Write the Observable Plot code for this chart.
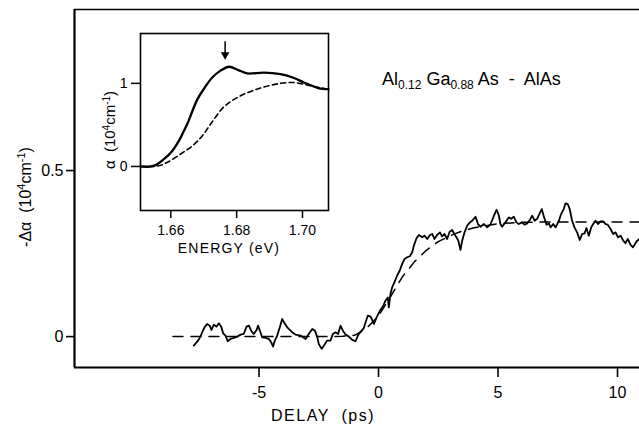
<!DOCTYPE html>
<html>
<head>
<meta charset="utf-8">
<script src="https://cdn.jsdelivr.net/npm/d3@7"></script>
<script src="https://cdn.jsdelivr.net/npm/@observablehq/plot@0.6"></script>
<style>
  html, body { margin: 0; padding: 0; background: white; }
  #wrap { position: relative; width: 639px; height: 424px; overflow: hidden; background: white; }
  #inset { position: absolute; left: 100px; top: 28px; }
  svg { font-family: "Liberation Sans", Arial, sans-serif; }
</style>
</head>
<body>
<div id="wrap"><div id="main"></div><div id="inset"></div></div>
<script>
// ---------- main panel data ----------
const delayTicks = [-5, 0, 5, 10];
const delayTickLabels = ["-5", "0", "5", "10"];
const dAlphaTicks = [0, 0.5];
const dAlphaTickLabels = ["0", "0.5"];

const traceDelay = [
  -7.73, -7.55, -7.45, -7.38, -7.28, -7.17, -7.06, -6.99, -6.89, -6.78, -6.68, -6.58, -6.50, -6.40, -6.31, -6.19,
  -6.05, -5.91, -5.77, -5.64, -5.52, -5.42, -5.33, -5.22, -5.10, -5.04, -4.94, -4.87, -4.73, -4.59, -4.49, -4.41,
  -4.35, -4.24, -4.13, -4.03, -3.93, -3.82, -3.71, -3.61, -3.47, -3.26, -3.05, -2.92, -2.77, -2.66, -2.56, -2.50,
  -2.38, -2.24, -2.15, -2.01, -1.91, -1.80, -1.69, -1.59, -1.49, -1.38, -1.24, -1.10, -0.96, -0.85, -0.71, -0.62,
  -0.54, -0.45, -0.33, -0.19, -0.08, 0.06, 0.20, 0.29, 0.39, 0.43, 0.50, 0.57, 0.67, 0.78, 0.89, 0.99,
  1.09, 1.20, 1.31, 1.41, 1.48, 1.59, 1.69, 1.83, 1.92, 2.04, 2.15, 2.25, 2.34, 2.45, 2.57, 2.66,
  2.76, 2.87, 2.98, 3.08, 3.17, 3.26, 3.34, 3.43, 3.50, 3.60, 3.71, 3.82, 3.92, 4.06, 4.16, 4.27,
  4.41, 4.55, 4.69, 4.83, 4.94, 5.04, 5.10, 5.17, 5.31, 5.45, 5.55, 5.66, 5.77, 5.87, 6.00, 6.11,
  6.22, 6.33, 6.43, 6.53, 6.64, 6.75, 6.83, 6.93, 7.03, 7.13, 7.20, 7.31, 7.41, 7.55, 7.64, 7.75,
  7.82, 7.92, 8.00, 8.10, 8.20, 8.31, 8.42, 8.52, 8.62, 8.70, 8.80, 8.90, 8.98, 9.08, 9.18, 9.29,
  9.40, 9.50, 9.59, 9.71, 9.82, 9.92, 10.02, 10.13, 10.24, 10.33, 10.43, 10.54, 10.65, 10.80, 10.92
];
const traceValue = [
  -0.027, -0.012, 0.000, 0.013, 0.028, 0.038, 0.033, 0.020, 0.036, 0.030, 0.040, 0.030, 0.010, 0.003, -0.014, -0.007,
  -0.004, 0.000, 0.006, 0.008, 0.030, 0.033, 0.018, 0.008, 0.020, 0.033, 0.013, -0.002, -0.004, -0.007, -0.017, -0.030,
  -0.014, 0.003, 0.028, 0.053, 0.040, 0.028, 0.020, 0.013, 0.006, 0.003, -0.007, 0.008, 0.023, 0.018, -0.002, -0.022,
  -0.037, -0.022, -0.012, -0.012, 0.008, 0.013, 0.008, 0.033, 0.018, 0.006, 0.000, -0.010, -0.014, 0.005, 0.018, 0.025,
  0.043, 0.063, 0.060, 0.038, 0.058, 0.078, 0.093, 0.108, 0.118, 0.088, 0.129, 0.148, 0.164, 0.184, 0.199, 0.219,
  0.234, 0.239, 0.242, 0.254, 0.274, 0.296, 0.306, 0.299, 0.304, 0.294, 0.306, 0.309, 0.294, 0.306, 0.314, 0.302,
  0.309, 0.294, 0.316, 0.321, 0.309, 0.299, 0.289, 0.261, 0.289, 0.314, 0.334, 0.344, 0.349, 0.361, 0.339, 0.331,
  0.339, 0.329, 0.339, 0.364, 0.382, 0.364, 0.339, 0.331, 0.344, 0.359, 0.355, 0.361, 0.344, 0.339, 0.344, 0.337,
  0.341, 0.351, 0.364, 0.349, 0.355, 0.372, 0.384, 0.359, 0.337, 0.341, 0.329, 0.339, 0.329, 0.349, 0.369, 0.384,
  0.401, 0.399, 0.384, 0.349, 0.329, 0.314, 0.291, 0.309, 0.311, 0.327, 0.304, 0.329, 0.339, 0.349, 0.339, 0.347,
  0.347, 0.339, 0.337, 0.324, 0.309, 0.314, 0.299, 0.304, 0.289, 0.281, 0.294, 0.277, 0.269, 0.287, 0.294
];

const fitDelay = [-8.6, -2.0, -1.5, -1.0, -0.5, 0.0, 0.5, 1.0, 1.5, 2.0, 2.5, 3.0, 3.5, 4.0, 5.0, 6.0, 7.0, 10.92];
const fitValue = [0, 0, 0.001, 0.004, 0.025, 0.062, 0.12, 0.18, 0.225, 0.26, 0.286, 0.304, 0.318, 0.328, 0.340, 0.344, 0.345, 0.345];

// ---------- inset data ----------
const energyTicks = [1.66, 1.68, 1.70];
const energyTickLabels = ["1.66", "1.68", "1.70"];
const alphaTicks = [0, 1];
const alphaTickLabels = ["0", "1"];

const solidEnergy = [1.6508, 1.6540, 1.6560, 1.6580, 1.6605, 1.6625, 1.6640, 1.6652, 1.6681, 1.6705, 1.6726, 1.6750, 1.6777, 1.6805, 1.6832, 1.6883, 1.6933, 1.6974, 1.7004, 1.7030, 1.7050, 1.7079];
const solidAlpha  = [0, 0, 0.03, 0.09, 0.19, 0.31, 0.43, 0.53, 0.81, 0.96, 1.07, 1.15, 1.20, 1.16, 1.12, 1.13, 1.11, 1.065, 1.01, 0.97, 0.94, 0.93];

const dashEnergy = [1.6508, 1.6560, 1.6590, 1.6630, 1.6666, 1.6696, 1.6721, 1.6762, 1.6812, 1.6873, 1.6933, 1.6974, 1.7014, 1.7050, 1.7079];
const dashAlpha  = [0, 0.005, 0.05, 0.15, 0.25, 0.37, 0.51, 0.72, 0.85, 0.945, 1.0, 1.01, 0.98, 0.95, 0.93];

const arrowEnergy = [1.6765];
const arrowTop = [1.50];
const arrowHead = [1.345];

// ---------- build tables ----------
const trace = traceDelay.map((d, i) => ({d, v: traceValue[i]}));
const fit = fitDelay.map((d, i) => ({d, v: fitValue[i]}));
const solid = solidEnergy.map((e, i) => ({e, a: solidAlpha[i]}));
const dashed = dashEnergy.map((e, i) => ({e, a: dashAlpha[i]}));
const arrow = arrowEnergy.map((e, i) => ({e, a1: arrowTop[i], a2: arrowHead[i]}));

const xDom = [-12.72, 10.92];
const yDom = [-0.093, 0.985];

const main = Plot.plot({
  width: 639, height: 424,
  marginLeft: 74, marginRight: 0, marginTop: 9, marginBottom: 57,
  x: {domain: xDom},
  y: {domain: yDom},
  style: {fontFamily: "Liberation Sans, Arial, sans-serif", fontSize: "16px", color: "black", background: "white", overflow: "visible"},
  marks: [
    Plot.ruleY([yDom[0]], {stroke: "black", strokeWidth: 2.2}),
    Plot.ruleY([yDom[1]], {stroke: "black", strokeWidth: 1.6}),
    Plot.ruleX([xDom[0]], {stroke: "black", strokeWidth: 2.2}),
    Plot.axisX(delayTicks, {tickSize: 10, tickPadding: 9, strokeWidth: 1.6, label: null,
      tickFormat: d => delayTickLabels[delayTicks.indexOf(d)], fontSize: 16}),
    Plot.axisY(dAlphaTicks, {tickSize: 8, tickPadding: 3, strokeWidth: 1.6, label: null,
      tickFormat: d => dAlphaTickLabels[dAlphaTicks.indexOf(d)], fontSize: 16}),
    Plot.line(fit, {x: "d", y: "v", stroke: "black", strokeWidth: 1.5, strokeDasharray: "10,8"}),
    Plot.line(trace, {x: "d", y: "v", stroke: "black", strokeWidth: 1.8, curve: "linear"})
  ]
});
document.getElementById("main").appendChild(main);

const ms = d3.select(main);
// y label
const yl = ms.append("text")
  .attr("transform", "translate(31,197) rotate(-90)")
  .attr("text-anchor", "middle").attr("font-size", 16).attr("fill", "black");
yl.append("tspan").text("-Δα  (10");
yl.append("tspan").attr("baseline-shift", "super").attr("font-size", 11).text("4");
yl.append("tspan").text("cm");
yl.append("tspan").attr("baseline-shift", "super").attr("font-size", 11).text("-1");
yl.append("tspan").text(")");
// x label
ms.append("text").attr("x", 323).attr("y", 421).attr("text-anchor", "middle")
  .attr("font-size", 16).attr("letter-spacing", 1.5).attr("fill", "black").text("DELAY  (ps)");
// annotation
const an = ms.append("text").attr("x", 382).attr("y", 85).attr("text-anchor", "start")
  .attr("font-size", 18).attr("fill", "black");
an.append("tspan").text("Al");
an.append("tspan").attr("baseline-shift", "-4").attr("font-size", 12).text("0.12");
an.append("tspan").text(" Ga");
an.append("tspan").attr("baseline-shift", "-4").attr("font-size", 12).text("0.88");
an.append("tspan").text(" As  -  AlAs");

// ---------- inset ----------
const eDom = [1.6508, 1.7079];
const aDom = [-0.53, 1.6];
const inset = Plot.plot({
  width: 230, height: 228,
  marginLeft: 40, marginRight: 2, marginTop: 5, marginBottom: 46,
  x: {domain: eDom},
  y: {domain: aDom},
  style: {fontFamily: "Liberation Sans, Arial, sans-serif", fontSize: "14px", color: "black", background: "transparent", overflow: "visible"},
  marks: [
    Plot.frame({stroke: "black", strokeWidth: 1.6}),
    Plot.axisX(energyTicks, {tickSize: 8, tickPadding: 7, strokeWidth: 1.5, label: null,
      tickFormat: d => energyTickLabels[energyTicks.indexOf(d)], fontSize: 14}),
    Plot.axisY(alphaTicks, {tickSize: 9, tickPadding: 4, strokeWidth: 1.5, label: null,
      tickFormat: d => alphaTickLabels[alphaTicks.indexOf(d)], fontSize: 14}),
    Plot.line(dashed, {x: "e", y: "a", stroke: "black", strokeWidth: 1.6, strokeDasharray: "5,3.5", curve: "catmull-rom"}),
    Plot.line(solid, {x: "e", y: "a", stroke: "black", strokeWidth: 2.3, curve: "catmull-rom"}),
    Plot.ruleX(arrow, {x: "e", y1: "a1", y2: "a2", stroke: "black", strokeWidth: 1.5}),
    Plot.dot(arrow, {x: "e", y: "a2", symbol: "triangle", rotate: 180, r: 3.2, fill: "black", stroke: "none"})
  ]
});
document.getElementById("inset").appendChild(inset);
const is = d3.select(inset);
const il = is.append("text")
  .attr("transform", "translate(15,102) rotate(-90)")
  .attr("text-anchor", "middle").attr("font-size", 15).attr("fill", "black");
il.append("tspan").text("α  (10");
il.append("tspan").attr("baseline-shift", "super").attr("font-size", 10).text("4");
il.append("tspan").text("cm");
il.append("tspan").attr("baseline-shift", "super").attr("font-size", 10).text("-1");
il.append("tspan").text(")");
is.append("text").attr("x", 129).attr("y", 225).attr("text-anchor", "middle")
  .attr("font-size", 14).attr("letter-spacing", 1.2).attr("fill", "black").text("ENERGY (eV)");
</script>
</body>
</html>
